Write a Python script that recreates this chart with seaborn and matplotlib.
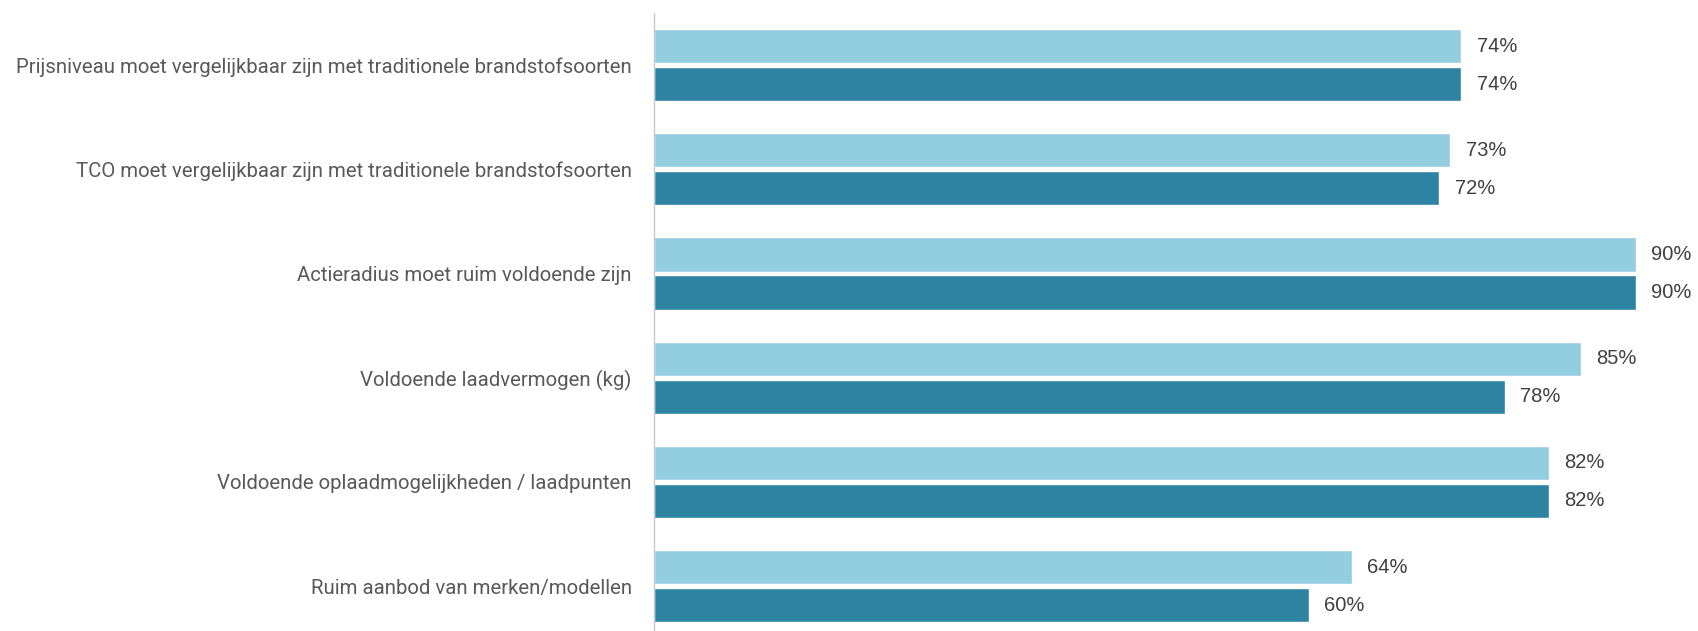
import matplotlib
matplotlib.use("Agg")
import matplotlib.pyplot as plt
import seaborn as sns
import pandas as pd

categories = [
    "Prijsniveau moet vergelijkbaar zijn met traditionele brandstofsoorten",
    "TCO moet vergelijkbaar zijn met traditionele brandstofsoorten",
    "Actieradius moet ruim voldoende zijn",
    "Voldoende laadvermogen (kg)",
    "Voldoende oplaadmogelijkheden / laadpunten",
    "Ruim aanbod van merken/modellen",
]
series_names = ["Serie 1", "Serie 2"]
serie_1 = [74, 73, 90, 85, 82, 64]
serie_2 = [74, 72, 90, 78, 82, 60]
colors = ["#93CDE0", "#2E82A2"]

df = pd.DataFrame({
    "categorie": categories * 2,
    "serie": [series_names[0]] * len(categories) + [series_names[1]] * len(categories),
    "waarde": serie_1 + serie_2,
})

sns.set_theme(style="white")
plt.rcParams["font.family"] = ["Roboto", "DejaVu Sans"]

fig = plt.figure(figsize=(16.98, 6.31), dpi=100)
ax = fig.add_axes([654 / 1698, 0.0, 1 - 654 / 1698, 1 - 13 / 631])

sns.barplot(
    data=df, y="categorie", x="waarde", hue="serie", order=categories,
    hue_order=series_names, palette=colors, orient="h",
    width=0.73, gap=0.1, legend=False, ax=ax, saturation=1,
)

for cont in ax.containers:
    ax.bar_label(cont, fmt="%d%%", padding=11, fontsize=14.5,
                 color="#404040", family=["Liberation Sans", "DejaVu Sans"])

ax.set_xlim(0, 95.7)
ax.set_ylim(5.43, -0.5)
ax.set_xlabel("")
ax.set_ylabel("")
ax.set_xticks([])
ax.tick_params(axis="y", length=0, pad=16, labelsize=14.7, labelcolor="#595959")
for side in ["top", "right", "bottom"]:
    ax.spines[side].set_visible(False)
ax.spines["left"].set_color("#C8C8C8")
ax.spines["left"].set_linewidth(1.0)

fig.savefig("out.png", dpi=100)
